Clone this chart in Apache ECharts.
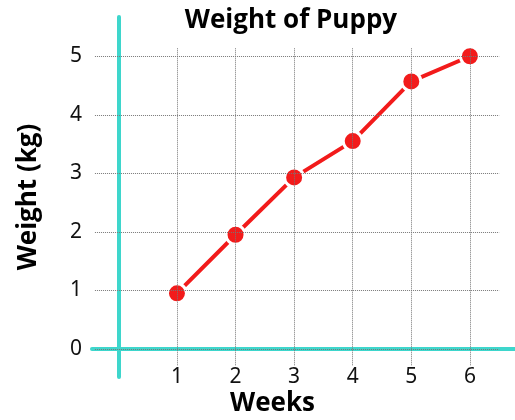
<!DOCTYPE html>
<html><head><meta charset="utf-8">
<script src="https://cdn.jsdelivr.net/npm/echarts@6/dist/echarts.min.js"></script>
<style>html,body{margin:0;padding:0;background:#fff}#c{width:515px;height:420px}</style>
</head><body><div id="c"></div>
<script>
const weeks = [1, 2, 3, 4, 5, 6];
const weights = [0.95, 1.95, 2.93, 3.55, 4.57, 5.0];
const xTicks = [1, 2, 3, 4, 5, 6];
const yTicks = [0, 1, 2, 3, 4, 5];

const GRID_X = [-0.4, 6.5];
const GRID_Y = [-0.28, 5.14];
const gridLines = [];
yTicks.forEach(v => gridLines.push([{coord: [GRID_X[0], v]}, {coord: [GRID_X[1], v]}]));
xTicks.forEach(v => gridLines.push([{coord: [v, GRID_Y[0]]}, {coord: [v, GRID_Y[1]]}]));

const chart = echarts.init(document.getElementById('c'));
const tickFont = {fontFamily: 'Noto Sans', fontSize: 21, color: '#111'};
const nameFont = {fontFamily: 'Open Sans', fontWeight: 'bold', fontSize: 26, color: '#000'};
chart.setOption({
  animation: false,
  title: {
    text: 'Weight of Puppy', left: 286, top: 3, textAlign: 'center',
    textStyle: nameFont
  },
  grid: {left: 92, right: 0, top: 17, bottom: 43, outerBoundsMode: 'none', containLabel: false},
  xAxis: {
    type: 'value', min: -0.45, max: 6.77, z: 2,
    name: 'Weeks', nameLocation: 'middle', nameGap: 14, nameMoveOverlap: false,
    nameTextStyle: Object.assign({padding: [0, 62, 0, 0]}, nameFont),
    axisLine: {show: true, onZero: true, lineStyle: {color: '#3ed6cc', width: 4}},
    axisTick: {show: false},
    splitLine: {show: false},
    axisLabel: Object.assign({customValues: xTicks, margin: -10}, tickFont)
  },
  yAxis: {
    type: 'value', min: -0.48, max: 5.67, z: 2,
    name: 'Weight (kg)', nameLocation: 'middle', nameRotate: 90, nameGap: 50, nameMoveOverlap: false,
    nameTextStyle: nameFont,
    axisLine: {show: true, onZero: true, lineStyle: {color: '#3ed6cc', width: 4}},
    axisTick: {show: false},
    splitLine: {show: false},
    axisLabel: Object.assign({customValues: yTicks, margin: 10, padding: [8, 0, 0, 0]}, tickFont)
  },
  series: [
    {
      type: 'line', data: [], z: 1, silent: true,
      markLine: {
        silent: true, symbol: 'none', label: {show: false},
        lineStyle: {color: '#777', width: 1, type: [1, 1]},
        data: gridLines
      }
    },
    {
      type: 'line', z: 3,
      data: weeks.map((w, i) => [w, weights[i]]),
      lineStyle: {color: '#f21b1b', width: 4},
      itemStyle: {color: '#f21b1b', borderColor: '#fff', borderWidth: 3},
      symbol: 'circle', symbolSize: 19
    }
  ]
});
</script></body></html>
